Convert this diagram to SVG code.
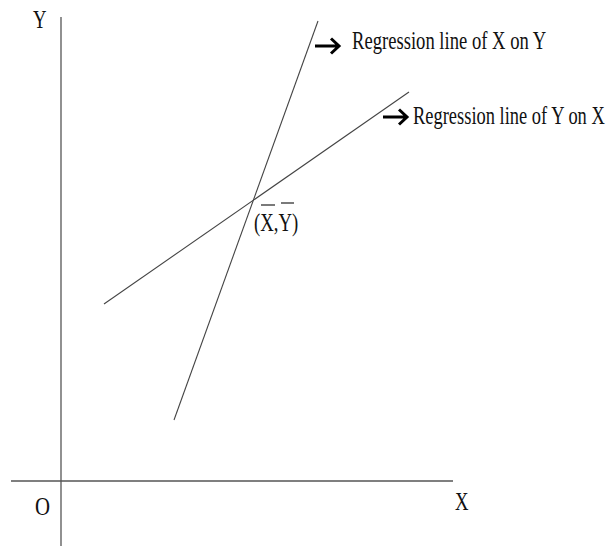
<svg xmlns="http://www.w3.org/2000/svg" width="610" height="546" viewBox="0 0 610 546">
<style>
.ax{stroke:#555;stroke-width:1.3;fill:none}
.ln{stroke:#444;stroke-width:1.1;fill:none}
.t{font-family:"Liberation Serif","Times New Roman",serif;font-size:26px;fill:#111}
.arr{stroke:#000;stroke-width:3;fill:none;stroke-linecap:butt;stroke-linejoin:miter}
.bar{stroke:#222;stroke-width:1.2}
</style>
<rect width="610" height="546" fill="#fff"/>
<g id="axes">
<line class="ax" x1="61" y1="17" x2="61" y2="546"/>
<line class="ax" x1="11" y1="481" x2="453" y2="481"/>
<text class="t" transform="translate(33 28) scale(0.72 1)">Y</text>
<text class="t" transform="translate(35 515) scale(0.8 1)">O</text>
<text class="t" transform="translate(455 510) scale(0.72 1)">X</text>
</g>
<g id="connectors">
<line id="xony" class="ln" x1="174" y1="420" x2="318" y2="21"/>
<line id="yonx" class="ln" x1="104" y1="304" x2="409" y2="92"/>
</g>
<g id="label-xony">
<path class="arr" d="M315 46 H338 M331 38.5 L339 46 L331 53.5"/>
<text class="t" transform="translate(352 49) scale(0.716 1)">Regression line of X on Y</text>
</g>
<g id="label-yonx">
<path class="arr" d="M383 117 H406 M399 109.5 L407 117 L399 124.5"/>
<text class="t" transform="translate(413 124) scale(0.71 1)">Regression line of Y on X</text>
</g>
<g id="mean-point">
<text class="t" transform="translate(254 231) scale(0.72 1)">(X,Y)</text>
<line class="bar" x1="261" y1="205" x2="275" y2="205"/>
<line class="bar" x1="281" y1="203" x2="294" y2="203"/>
</g>
</svg>
